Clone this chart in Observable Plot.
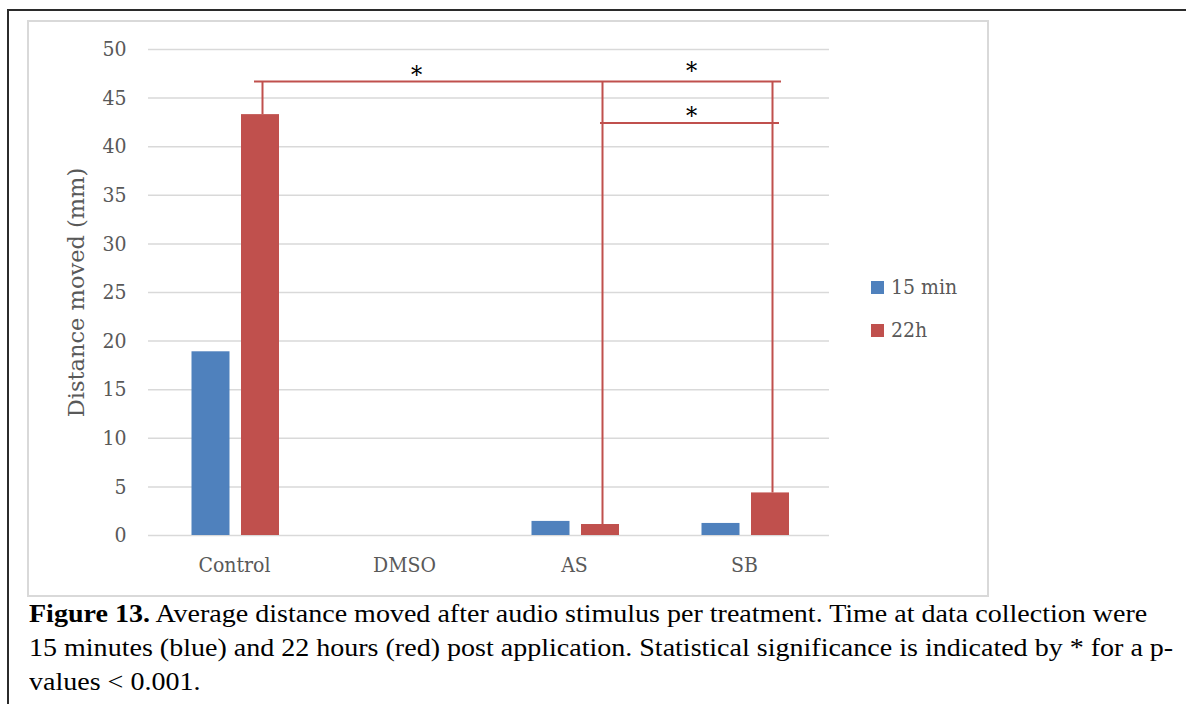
<!DOCTYPE html>
<html>
<head>
<meta charset="utf-8">
<script src="https://cdn.jsdelivr.net/npm/d3@7"></script>
<script src="https://cdn.jsdelivr.net/npm/@observablehq/plot@0.6"></script>
<style>
  html, body { margin: 0; padding: 0; background: #fff; width: 1186px; height: 704px; overflow: hidden; }
  #frame { position: absolute; left: 7px; top: 9px; width: 1220px; height: 740px; border: 2px solid #2b2b2b; box-sizing: border-box; }
  #chartbox { position: absolute; left: 27px; top: 20px; width: 962px; height: 577px; border: 2px solid #d9d9d9; box-sizing: border-box; }
  #chart { position: absolute; left: 0; top: 0; }
  #chart svg [aria-label="y-axis label"] text, #chart svg [aria-label="y-axis label"] { font-family: "DejaVu Serif", serif; font-stretch: normal; font-size: 22.5px; }
  .leg-item { position: absolute; height: 20px; font-family: "DejaVu Serif Condensed", "DejaVu Serif", serif; font-stretch: condensed; font-size: 21px; color: #595959; white-space: nowrap; }
  .leg-sw { position: absolute; left: 0; top: 0; width: 13px; height: 13px; }
  .leg-tx { position: absolute; left: 20px; top: -7px; line-height: 26px; }
  #caption { position: absolute; left: 29px; top: 597px; font-family: "Liberation Serif", "Times New Roman", "DejaVu Serif", serif; font-size: 26px; line-height: 34px; color: #000; white-space: nowrap; transform: scaleX(1.078); transform-origin: 0 0; }
</style>
</head>
<body>
<div id="frame"></div>
<div id="chartbox"><div id="chart"></div></div>
<div id="legend"></div>
<div id="caption"></div>
<script>
// ---- data ----
const categories = ["Control", "DMSO", "AS", "SB"];
const series = ["15 min", "22h"];
const values15min = [18.9, 0, 1.45, 1.24];
const values22h = [43.3, 0, 1.13, 4.38];
const seriesColors = ["#4f81bd", "#c0504d"];
const yTicks = [0, 5, 10, 15, 20, 25, 30, 35, 40, 45, 50];
const yLabel = "Distance moved (mm)";
// significance brackets (values in data units)
const bracketFrom = ["Control", "AS"];
const bracketTo = ["SB", "SB"];
const bracketLevel = [46.7, 42.45];
const legCategory = ["Control", "AS", "SB"];
const legBottom = [43.3, 1.13, 4.38];
const legTop = [46.7, 46.7, 46.7];
const starLabel = ["*", "*", "*"];
const starNear = ["DMSO", "SB", "SB"];
const starLevel = [48.0, 48.4, 43.8];
const captionBold = "Figure 13.";
const captionLines = [
  " Average distance moved after audio stimulus per treatment. Time at data collection were",
  "15 minutes (blue) and 22 hours (red) post application. Statistical significance is indicated by * for a p-",
  "values < 0.001."
];

// ---- tables ----
const t15 = categories.map((c, i) => ({category: c, value: values15min[i]}));
const t22 = categories.map((c, i) => ({category: c, value: values22h[i]}));
const brackets = bracketFrom.map((f, i) => ({from: f, to: bracketTo[i], y: bracketLevel[i]}));
const legs = legCategory.map((c, i) => ({category: c, y1: legBottom[i], y2: legTop[i]}));
const stars = starLabel.map((s, i) => ({text: s, category: starNear[i], y: starLevel[i]}));

const red = seriesColors[1];
const chart = Plot.plot({
  width: 958,
  height: 573,
  marginLeft: 119,
  marginRight: 158,
  marginTop: 27,
  marginBottom: 60,
  style: {
    fontFamily: '"DejaVu Serif Condensed", "DejaVu Serif", serif',
    fontStretch: "condensed",
    fontSize: "21px",
    color: "#595959",
    background: "transparent",
    overflow: "visible"
  },
  x: {domain: categories, padding: 0, tickSize: 0, tickPadding: 22, label: null},
  y: {domain: [0, 50], ticks: yTicks, tickSize: 0, tickPadding: 22, label: yLabel, labelArrow: "none", labelAnchor: "center", labelOffset: 80},
  marks: [
    Plot.ruleY(yTicks, {stroke: "#d9d9d9", strokeWidth: 1.5}),
    Plot.barY(t15, {x: "category", y: "value", fill: seriesColors[0], insetLeft: 42.5, insetRight: 89.5}),
    Plot.barY(t22, {x: "category", y: "value", fill: seriesColors[1], insetLeft: 92, insetRight: 40}),
    Plot.ruleX(legs, {x: "category", y1: "y1", y2: "y2", stroke: red, strokeWidth: 2, dx: 28}),
    Plot.ruleY(brackets.slice(0, 1), {x1: "from", x2: "to", y: "y", stroke: red, strokeWidth: 2, insetLeft: 105, insetRight: 48}),
    Plot.ruleY(brackets.slice(1), {x1: "from", x2: "to", y: "y", stroke: red, strokeWidth: 2, insetLeft: 111, insetRight: 50}),
    Plot.text(stars.slice(0, 1), {x: "category", y: "y", text: "text", dx: 12, dy: 6, fill: "#000", fontSize: 25, fontFamily: "DejaVu Serif"}),
    Plot.text(stars.slice(1), {x: "category", y: "y", text: "text", dx: -53, dy: 6, fill: "#000", fontSize: 25, fontFamily: "DejaVu Serif"})
  ]
});
document.getElementById("chart").appendChild(chart);

// legend
const legend = document.getElementById("legend");
series.forEach((s, i) => {
  const item = document.createElement("div");
  item.className = "leg-item";
  item.style.left = "871px";
  item.style.top = (281 + i * 43) + "px";
  const sw = document.createElement("div");
  sw.className = "leg-sw";
  sw.style.background = seriesColors[i];
  const tx = document.createElement("div");
  tx.className = "leg-tx";
  tx.textContent = s;
  item.appendChild(sw);
  item.appendChild(tx);
  legend.appendChild(item);
});

// caption
const cap = document.getElementById("caption");
const b = document.createElement("b");
b.textContent = captionBold;
cap.appendChild(b);
captionLines.forEach((line, i) => {
  if (i > 0) cap.appendChild(document.createElement("br"));
  cap.appendChild(document.createTextNode(line));
});
</script>
</body>
</html>
